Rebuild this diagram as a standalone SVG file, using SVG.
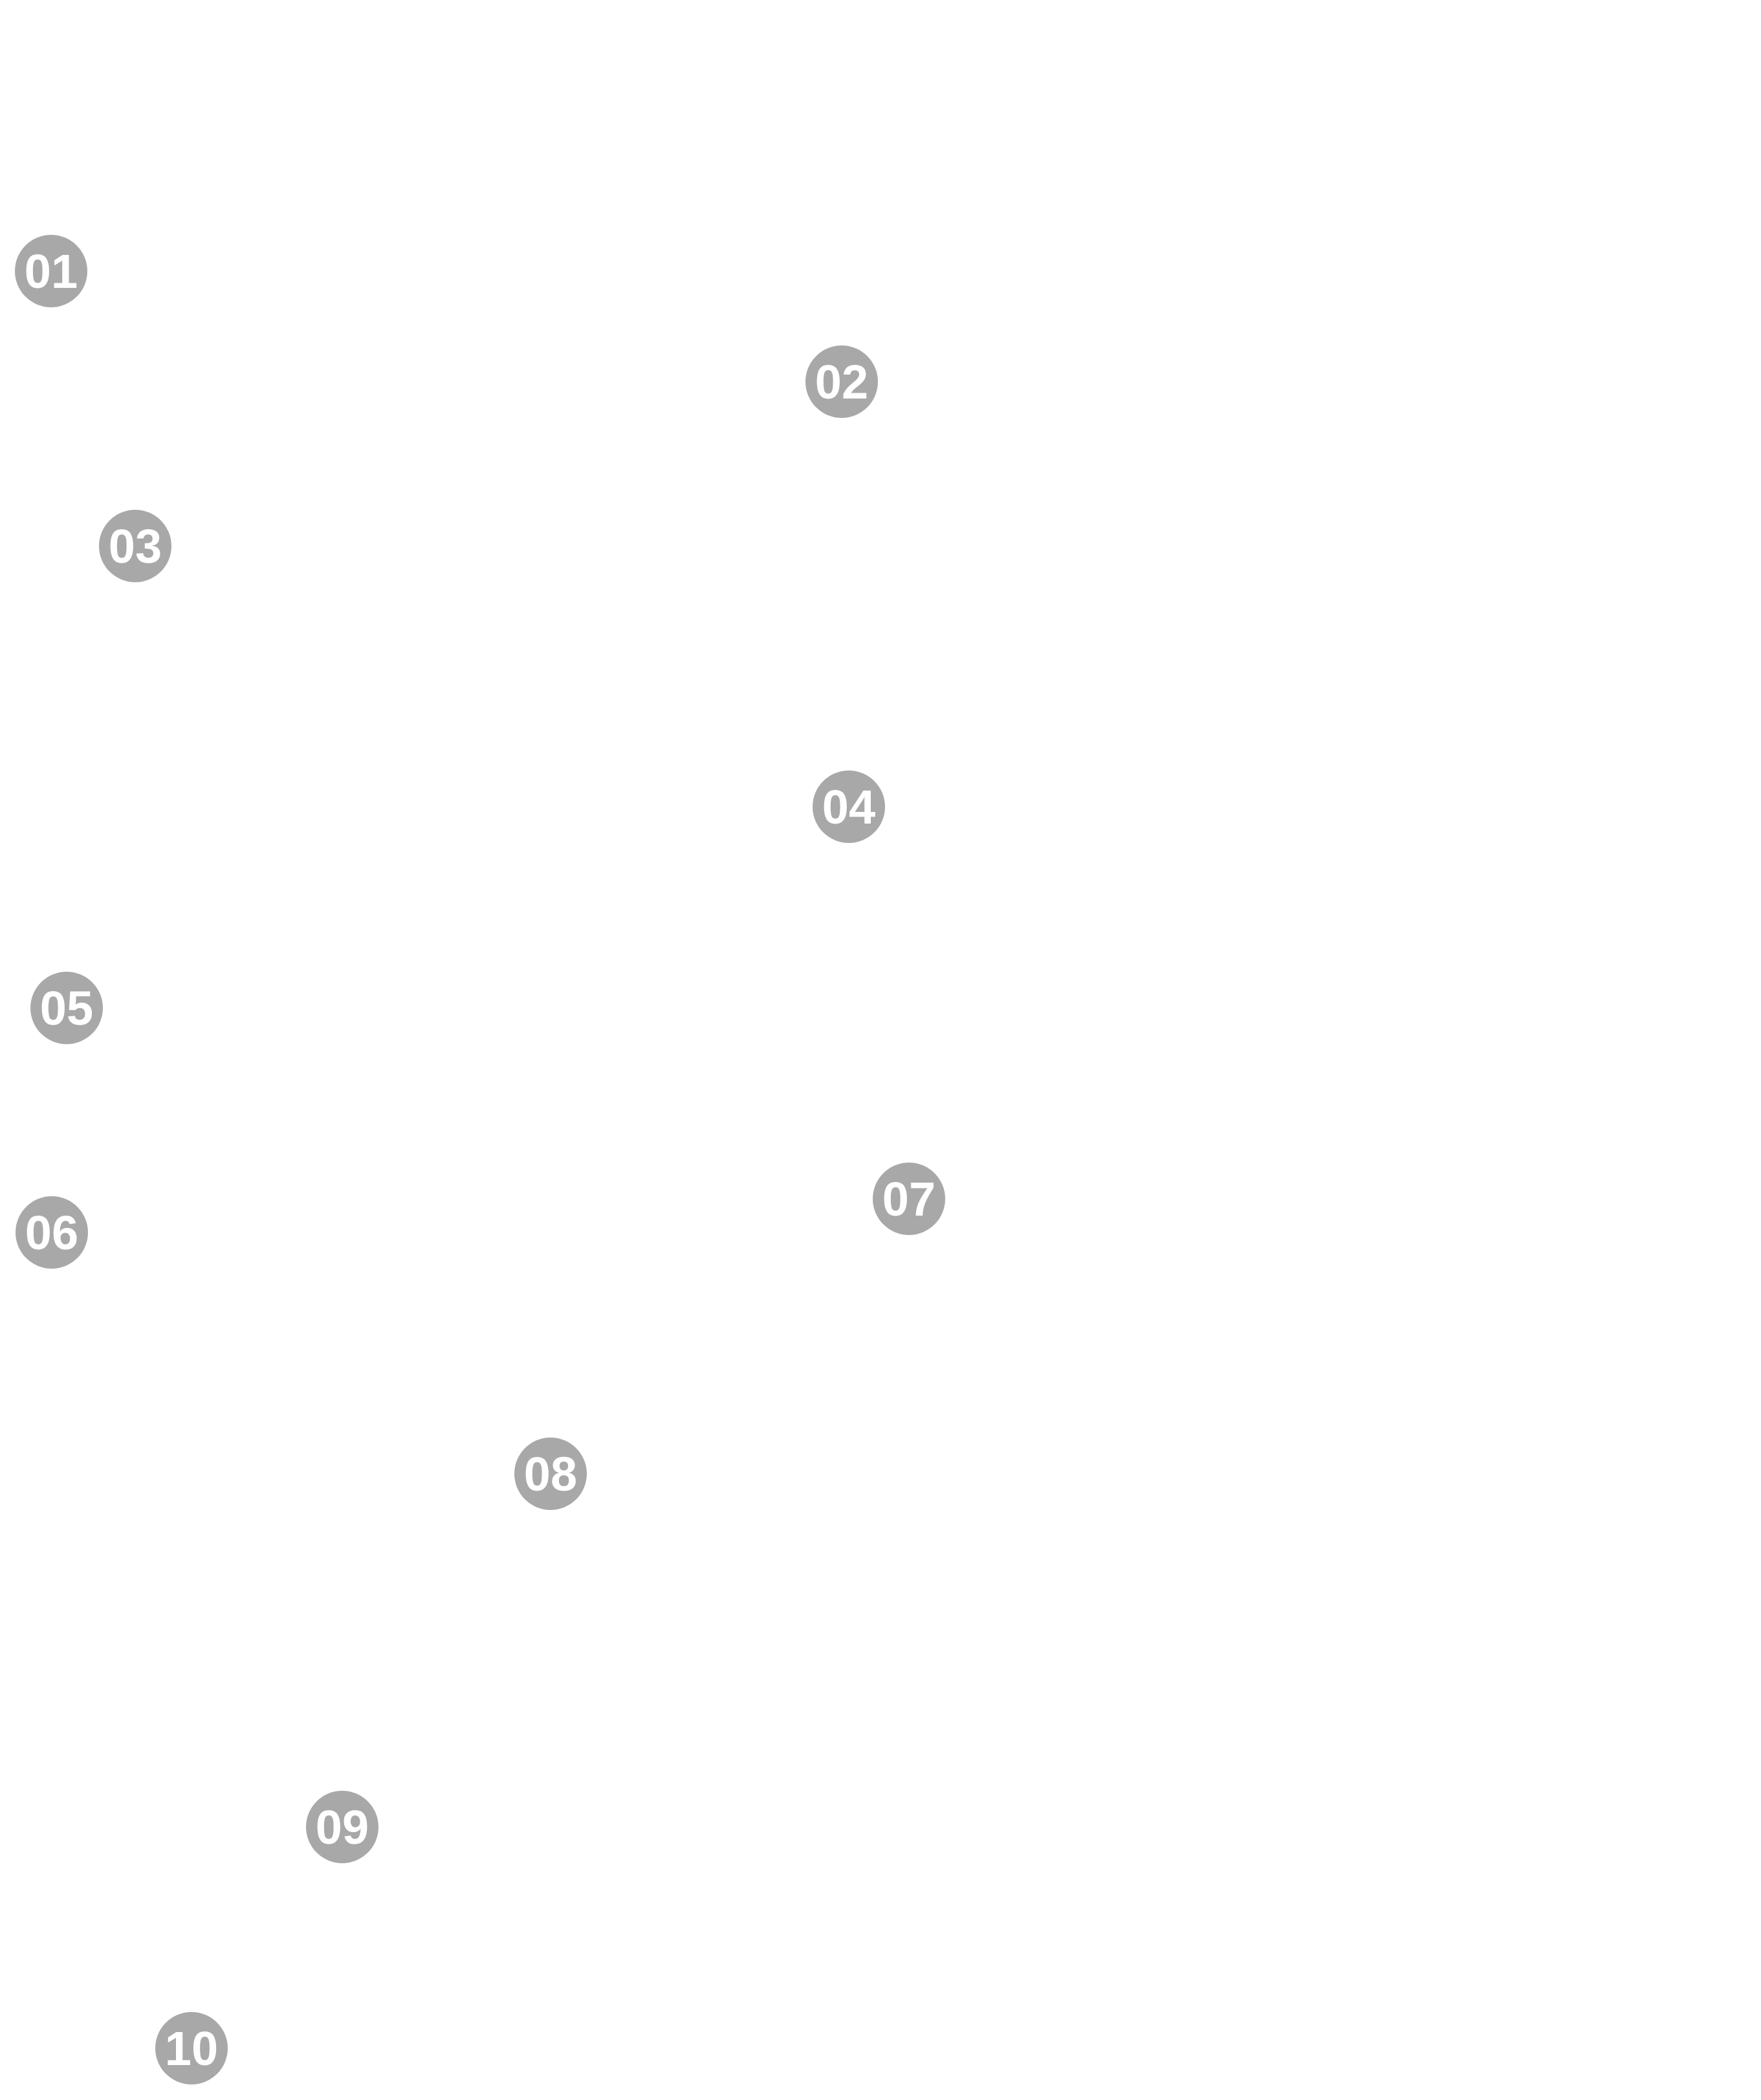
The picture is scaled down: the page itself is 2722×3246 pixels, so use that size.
<svg xmlns="http://www.w3.org/2000/svg" width="2722" height="3246" viewBox="0 0 2722 3246">
<style>
.b circle{fill:#a7a8a7}
.b text{fill:#fff;font-family:"Liberation Sans",Arial,sans-serif;font-weight:bold;font-size:74px;text-anchor:middle}
</style>
<rect width="2722" height="3246" fill="#fff"/>
<g id="connectors"/>
<g id="n01" class="b"><circle cx="79" cy="419" r="56"/><text x="79" y="445">01</text></g>
<g id="n02" class="b"><circle cx="1301" cy="590" r="56"/><text x="1301" y="616">02</text></g>
<g id="n03" class="b"><circle cx="209" cy="844" r="56"/><text x="209" y="870">03</text></g>
<g id="n04" class="b"><circle cx="1312" cy="1247" r="56"/><text x="1312" y="1273">04</text></g>
<g id="n05" class="b"><circle cx="103" cy="1558" r="56"/><text x="103" y="1584">05</text></g>
<g id="n06" class="b"><circle cx="80" cy="1905" r="56"/><text x="80" y="1931">06</text></g>
<g id="n07" class="b"><circle cx="1405" cy="1853" r="56"/><text x="1405" y="1879">07</text></g>
<g id="n08" class="b"><circle cx="851" cy="2278" r="56"/><text x="851" y="2304">08</text></g>
<g id="n09" class="b"><circle cx="529" cy="2824" r="56"/><text x="529" y="2850">09</text></g>
<g id="n10" class="b"><circle cx="296" cy="3166" r="56"/><text x="296" y="3192">10</text></g>
</svg>
